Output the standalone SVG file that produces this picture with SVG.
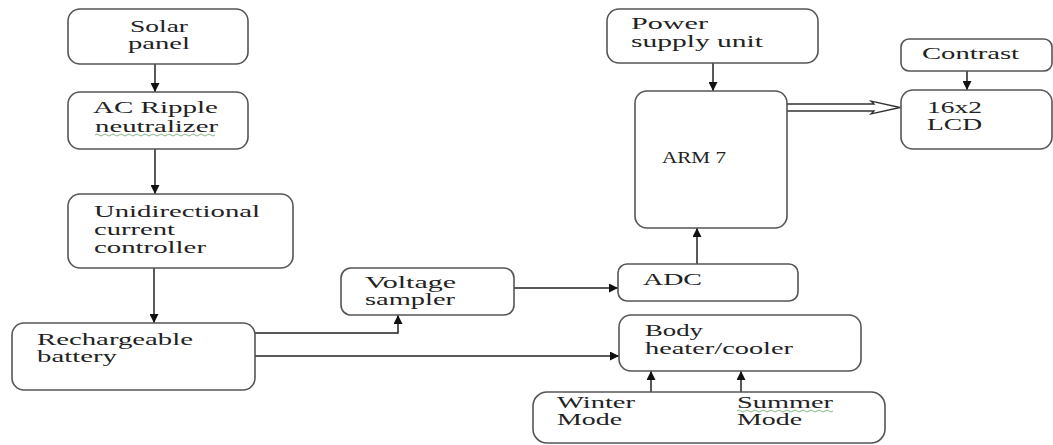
<svg xmlns="http://www.w3.org/2000/svg" width="1053" height="445" viewBox="0 0 1053 445">
<defs>
<style>
.box{fill:#fff;stroke:#555;stroke-width:1.6}
.t{font-family:"Liberation Serif","Times New Roman",serif;font-size:16px;fill:#222}
.ln{fill:none;stroke:#222;stroke-width:1.5}
.sq{fill:none;stroke:#7ab07a;stroke-width:0.9}
</style>
<marker id="ah" viewBox="0 0 10 10" refX="10" refY="5" markerWidth="9" markerHeight="9" markerUnits="userSpaceOnUse" orient="auto">
<path d="M0,0 L10,5 L0,10 Z" fill="#111"/>
</marker>
</defs>
<rect width="1053" height="445" fill="#fff"/>

<g id="connectors">
<line class="ln" x1="155" y1="64" x2="155" y2="92" marker-end="url(#ah)"/>
<line class="ln" x1="155" y1="149" x2="155" y2="194" marker-end="url(#ah)"/>
<line class="ln" x1="154" y1="268" x2="154" y2="323" marker-end="url(#ah)"/>
<path class="ln" d="M255,333 H398 V315" marker-end="url(#ah)"/>
<path class="ln" d="M255,356 H619" stroke="#555" marker-end="url(#ah)"/>
<path class="ln" d="M514,288 H618" marker-end="url(#ah)"/>
<line class="ln" x1="697" y1="264" x2="697" y2="228" marker-end="url(#ah)"/>
<line class="ln" x1="713" y1="63" x2="713" y2="91" marker-end="url(#ah)"/>
<line class="ln" x1="967" y1="71" x2="967" y2="90" marker-end="url(#ah)"/>
<line class="ln" x1="651" y1="392" x2="651" y2="371" marker-end="url(#ah)"/>
<line class="ln" x1="741" y1="392" x2="741" y2="371" marker-end="url(#ah)"/>
<path d="M787,104 H874 L871,101 L900,107.5 L871,114 L874,111 H787" fill="#fff" stroke="#333" stroke-width="1.3" stroke-linejoin="miter"/>
</g>

<g id="solar"><rect class="box" x="68" y="9" width="180" height="55" rx="12"/>
<text class="t" x="130" y="32" textLength="58" lengthAdjust="spacingAndGlyphs">Solar</text>
<text class="t" x="128" y="49" textLength="62" lengthAdjust="spacingAndGlyphs">panel</text></g>

<g id="ripple"><rect class="box" x="68" y="92" width="180" height="57" rx="12"/>
<text class="t" x="93" y="113" textLength="125" lengthAdjust="spacingAndGlyphs">AC Ripple</text>
<text class="t" x="95" y="132" textLength="123" lengthAdjust="spacingAndGlyphs">neutralizer</text>
<path class="sq" d="M95,135 q2,-2 4,0 t4,0 t4,0 t4,0 t4,0 t4,0 t4,0 t4,0 t4,0 t4,0 t4,0 t4,0 t4,0 t4,0 t4,0 t4,0 t4,0 t4,0 t4,0 t4,0 t4,0 t4,0 t4,0 t4,0 t4,0 t4,0 t4,0 t4,0 t4,0 t4,0"/></g>

<g id="unidirectional"><rect class="box" x="68" y="194" width="225" height="74" rx="12"/>
<text class="t" x="94" y="217" textLength="166" lengthAdjust="spacingAndGlyphs">Unidirectional</text>
<text class="t" x="94" y="235" textLength="81" lengthAdjust="spacingAndGlyphs">current</text>
<text class="t" x="94" y="253" textLength="112" lengthAdjust="spacingAndGlyphs">controller</text></g>

<g id="battery"><rect class="box" x="12" y="323" width="243" height="67" rx="12"/>
<text class="t" x="37" y="345" textLength="156" lengthAdjust="spacingAndGlyphs">Rechargeable</text>
<text class="t" x="37" y="362" textLength="80" lengthAdjust="spacingAndGlyphs">battery</text></g>

<g id="voltage"><rect class="box" x="341" y="268" width="173" height="47" rx="10"/>
<text class="t" x="365" y="288" textLength="91" lengthAdjust="spacingAndGlyphs">Voltage</text>
<text class="t" x="365" y="305" textLength="90" lengthAdjust="spacingAndGlyphs">sampler</text></g>

<g id="adc"><rect class="box" x="618" y="264" width="180" height="37" rx="9"/>
<text class="t" x="643" y="285" textLength="59" lengthAdjust="spacingAndGlyphs">ADC</text></g>

<g id="body"><rect class="box" x="619" y="315" width="242" height="56" rx="12"/>
<text class="t" x="645" y="336" textLength="58" lengthAdjust="spacingAndGlyphs">Body</text>
<text class="t" x="645" y="354" textLength="148" lengthAdjust="spacingAndGlyphs">heater/cooler</text></g>

<g id="modes"><rect class="box" x="533" y="392" width="352" height="51" rx="14"/>
<text class="t" x="557" y="408" textLength="78" lengthAdjust="spacingAndGlyphs">Winter</text>
<text class="t" x="557" y="425" textLength="65" lengthAdjust="spacingAndGlyphs">Mode</text>
<text class="t" x="737" y="408" textLength="96" lengthAdjust="spacingAndGlyphs">Summer</text>
<path class="sq" d="M737,411 q2,-2 4,0 t4,0 t4,0 t4,0 t4,0 t4,0 t4,0 t4,0 t4,0 t4,0 t4,0 t4,0 t4,0 t4,0 t4,0 t4,0 t4,0 t4,0 t4,0 t4,0 t4,0 t4,0 t4,0 t4,0"/>
<text class="t" x="737" y="425" textLength="65" lengthAdjust="spacingAndGlyphs">Mode</text></g>

<g id="power"><rect class="box" x="607" y="9" width="211" height="54" rx="12"/>
<text class="t" x="631" y="29" textLength="77" lengthAdjust="spacingAndGlyphs">Power</text>
<text class="t" x="631" y="47" textLength="132" lengthAdjust="spacingAndGlyphs">supply unit</text></g>

<g id="arm"><rect class="box" x="635" y="91" width="152" height="137" rx="12"/>
<text class="t" x="662" y="163" textLength="64" lengthAdjust="spacingAndGlyphs">ARM 7</text></g>

<g id="contrast"><rect class="box" x="901" y="39" width="151" height="32" rx="8"/>
<text class="t" x="922" y="59" textLength="97" lengthAdjust="spacingAndGlyphs">Contrast</text></g>

<g id="lcd"><rect class="box" x="901" y="90" width="151" height="59" rx="12"/>
<text class="t" x="927" y="113" textLength="55" lengthAdjust="spacingAndGlyphs">16x2</text>
<text class="t" x="927" y="130" textLength="55" lengthAdjust="spacingAndGlyphs">LCD</text></g>
</svg>
